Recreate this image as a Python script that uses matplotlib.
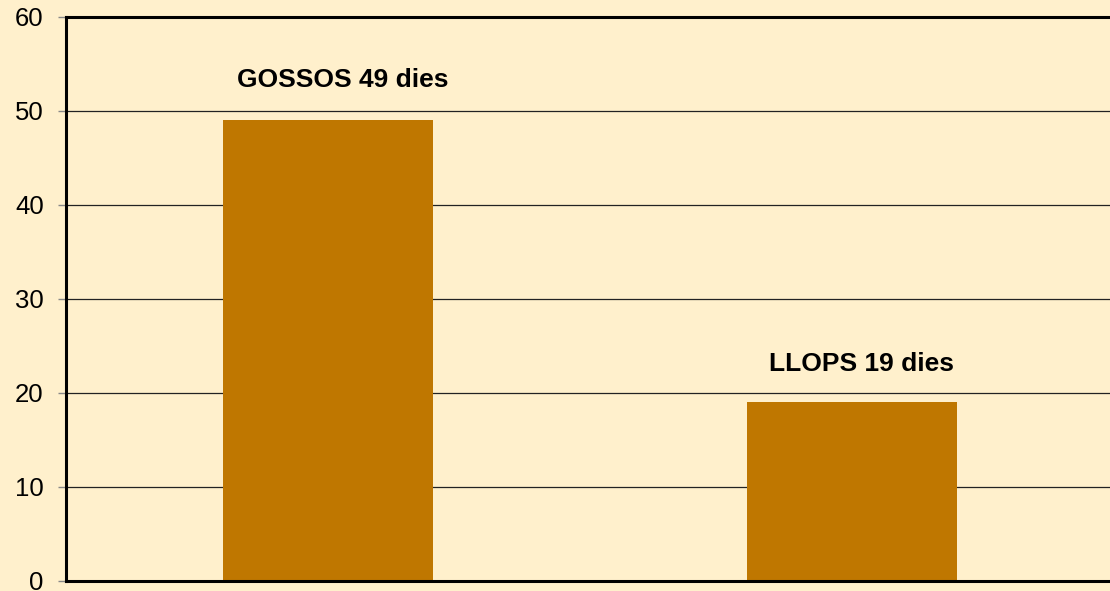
import matplotlib
matplotlib.use("Agg")
import matplotlib.pyplot as plt

# data
categories = ["GOSSOS", "LLOPS"]
values = [49, 19]
labels = ["GOSSOS 49 dies", "LLOPS 19 dies"]

bg = "#FFF0CC"
bar_color = "#BF7700"

plt.rcParams["font.family"] = ["Liberation Sans", "DejaVu Sans"]

fig = plt.figure(figsize=(11.1, 5.91), dpi=100, facecolor=bg)
ax = fig.add_axes([66 / 1110, 10 / 591, 1048 / 1110, 564 / 591])
ax.set_facecolor(bg)

x = list(range(len(categories)))
ax.bar(x, values, width=0.4, color=bar_color, zorder=2)

# labels sit a bit right of the bar centre, ~3.5 units above the bar
x_shift = [0.029, 0.019]
for i, txt in enumerate(labels):
    ax.text(x[i] + x_shift[i], values[i] + 3.3 + 0.3 * (i == 0), txt,
            ha="center", va="baseline",
            fontsize=19, fontweight="bold", color="black")

ax.set_xlim(-0.5, 1.5)
ax.set_ylim(0, 60)
ax.set_yticks(range(0, 61, 10))
ax.set_xticks([])
ax.yaxis.grid(True, color="#222222", linewidth=0.9, zorder=1)
ax.set_axisbelow(True)

ax.tick_params(axis="y", length=6, width=1, color="#888888", labelsize=18.5, pad=10)

for side in ["left", "bottom", "top"]:
    ax.spines[side].set_linewidth(2.2)
    ax.spines[side].set_color("black")
ax.spines["right"].set_visible(False)

fig.savefig("out.png", dpi=100, facecolor=bg)
